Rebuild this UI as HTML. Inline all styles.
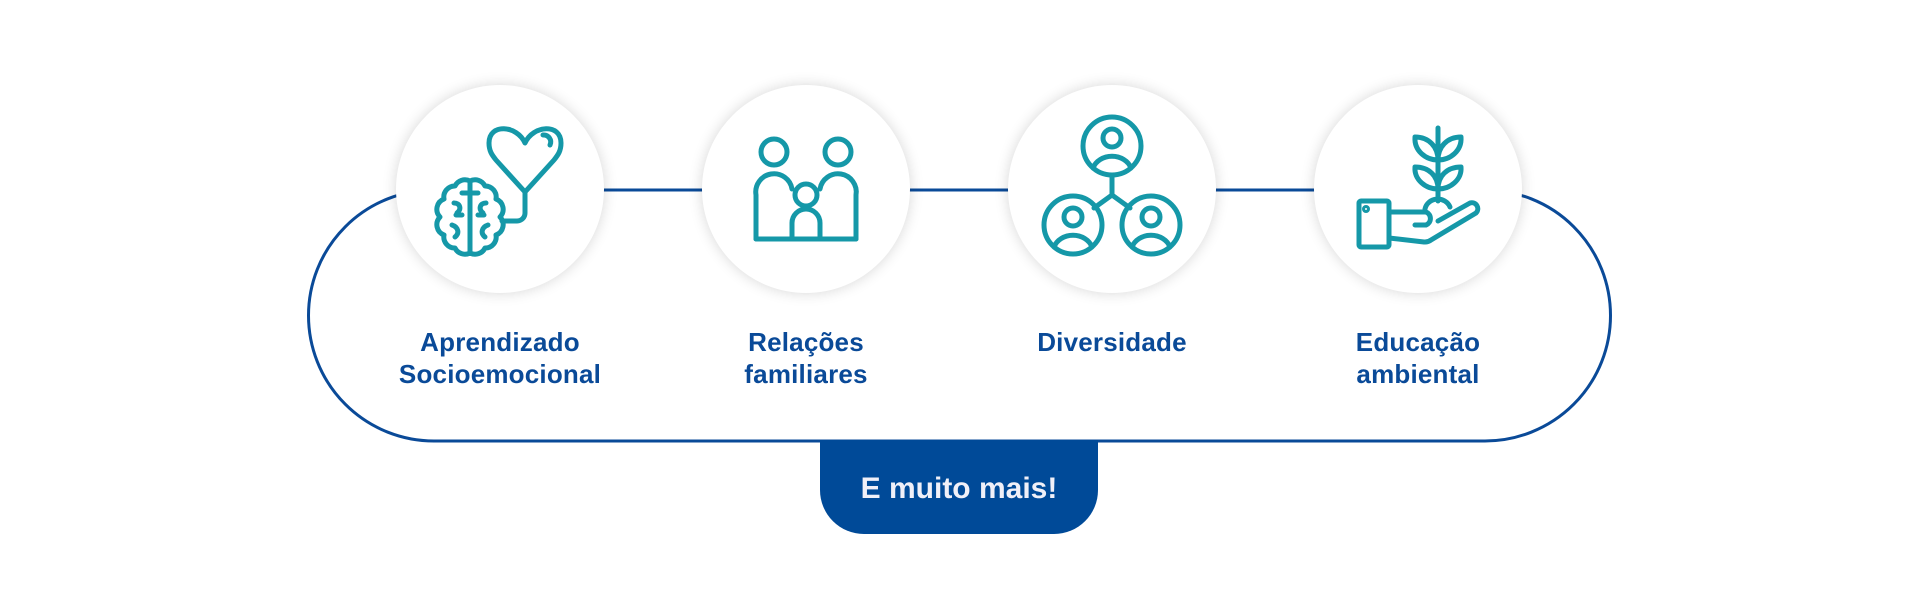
<!DOCTYPE html>
<html><head><meta charset="utf-8"><style>
html,body{margin:0;padding:0;background:#fff;}
body{width:1920px;height:591px;position:relative;overflow:hidden;font-family:"Liberation Sans",sans-serif;}
.c{position:absolute;width:208px;height:208px;border-radius:50%;background:#fff;box-shadow:0 0 14px rgba(0,0,0,0.16);top:85px;}
.l{position:absolute;width:300px;text-align:center;color:#0a4a98;font-weight:bold;font-size:26px;line-height:32px;top:326px;letter-spacing:0.2px;}
.btn{position:absolute;left:820px;top:440px;width:278px;height:94px;background:#004a98;border-radius:0 0 44px 44px;color:#f0f0f8;font-weight:bold;font-size:30px;text-align:center;line-height:94px;box-sizing:border-box;padding-top:2px;}
svg.i{position:absolute;}
</style></head><body>
<svg width="1920" height="591" style="position:absolute;left:0;top:0">
<path d="M434,190 H1485 A125,125 0 0 1 1485,441 H434 A125,125 0 0 1 434,190 Z" fill="none" stroke="#0a4a98" stroke-width="3"/>
</svg>
<div class="c" style="left:396px"></div>
<div class="c" style="left:702px"></div>
<div class="c" style="left:1008px"></div>
<div class="c" style="left:1314px"></div>

<!-- icon 1 brain+heart -->
<svg class="i" style="left:396px;top:85px" width="208" height="208" viewBox="0 0 208 208" fill="none" stroke="#1598a8" stroke-width="5" stroke-linecap="round" stroke-linejoin="round">
<path d="M129,58 C121,40 93,38 93,58 C93,66 96,70 100,75 L129,107 L158,75 C162,70 165,66 165,58 C165,38 137,40 129,58 Z"/>
<path d="M147,50 a7,7 0 0 1 7,10"/>
<path d="M129,107 V128 a8,8 0 0 1 -8,8 H106"/>
<path d="M104,132 A11,11 0 0 1 100,150 A11,11 0 0 1 89,163 A11,11 0 0 1 74,168 A11,11 0 0 1 59,163 A11,11 0 0 1 48,150 A11,11 0 0 1 44,132 A11,11 0 0 1 48,114 A11,11 0 0 1 59,101 A11,11 0 0 1 74,96 A11,11 0 0 1 89,101 A11,11 0 0 1 100,114 A11,11 0 0 1 104,132 Z"/>
<path d="M74,96 V168 M66,108 h16 M58,118 c6,0 8,6 3,10 M90,118 c-6,0 -8,6 -3,10 M56,140 c6,2 8,8 3,12 M92,140 c-6,2 -8,8 -3,12 M66,130 h-6 M82,130 h6"/>
</svg>

<!-- icon 2 family -->
<svg class="i" style="left:702px;top:85px" width="208" height="208" viewBox="0 0 208 208" fill="none" stroke="#1598a8" stroke-width="5" stroke-linecap="round" stroke-linejoin="round">
<circle cx="72" cy="67" r="13"/><circle cx="136" cy="67" r="13"/>
<path d="M54,154 V110 a18,18 0 0 1 36,-6"/>
<path d="M154,154 V110 a18,18 0 0 0 -36,-6"/>
<circle cx="104" cy="110" r="11"/>
<path d="M90,154 V138 a14,14 0 0 1 28,0 V154"/>
<path d="M54,154 H154"/>
</svg>

<!-- icon 3 diversity -->
<svg class="i" style="left:1008px;top:85px" width="208" height="208" viewBox="0 0 208 208" fill="none" stroke="#1598a8" stroke-width="5" stroke-linecap="round" stroke-linejoin="round">
<circle cx="104" cy="61" r="29"/><circle cx="104" cy="53" r="9"/><path d="M85,83 a20,17 0 0 1 38,0"/>
<circle cx="65" cy="140" r="29"/><circle cx="65" cy="132" r="9"/><path d="M46,162 a20,17 0 0 1 38,0"/>
<circle cx="143" cy="140" r="29"/><circle cx="143" cy="132" r="9"/><path d="M124,162 a20,17 0 0 1 38,0"/>
<path d="M104,90 V110 M104,110 L86,123 M104,110 L122,123"/>
</svg>

<!-- icon 4 plant in hand -->
<svg class="i" style="left:1314px;top:85px" width="208" height="208" viewBox="0 0 208 208" fill="none" stroke="#1598a8" stroke-width="5" stroke-linecap="round" stroke-linejoin="round">
<rect x="45" y="116" width="30" height="46" rx="2"/>
<circle cx="52" cy="124" r="1.5"/>
<path d="M75,127 H112 a7,7 0 0 1 0,13 H101"/>
<path d="M75,153 L110,157 a10,10 0 0 0 7,-2 L162,128 a6,6 0 0 0 -6,-10 L124,136"/>
<path d="M111,124 a13,12 0 0 1 25,-2"/>
<path d="M124,43 V116"/>
<path d="M124,75 C112,75 100,66 101,52 C115,52 124,62 124,75 C124,62 133,52 147,52 C148,66 136,75 124,75"/>
<path d="M124,104 C112,104 100,95 101,82 C115,82 124,91 124,104 C124,91 133,82 147,82 C148,95 136,104 124,104"/>
</svg>

<div class="l" style="left:350px">Aprendizado<br>Socioemocional</div>
<div class="l" style="left:656px">Relações<br>familiares</div>
<div class="l" style="left:962px">Diversidade</div>
<div class="l" style="left:1268px">Educação<br>ambiental</div>
<div class="btn">E muito mais!</div>
</body></html>
